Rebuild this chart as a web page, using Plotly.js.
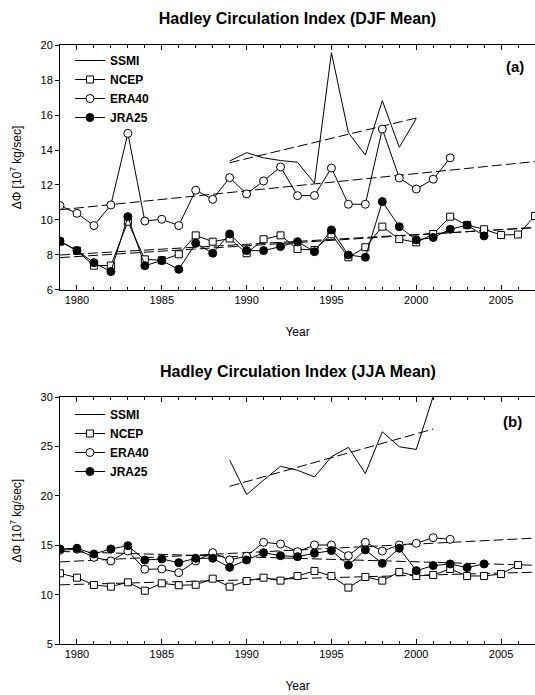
<!DOCTYPE html>
<html><head><meta charset="utf-8">
<script src="https://cdn.plot.ly/plotly-3.0.1.min.js"></script>
<style>html,body{margin:0;padding:0;background:#fff}#chart{width:535px;height:695px}</style>
</head><body><div id="chart"></div>
<script>
// ---- DJF (panel a) ----
const yearsSSMI_DJF = [1989,1990,1991,1992,1993,1994,1995,1996,1997,1998,1999,2000];
const ssmiDJF = [13.37,13.85,13.55,13.4,13.3,12.1,19.56,14.99,13.71,16.82,14.15,15.8];
const yearsNCEP_DJF = [1979,1980,1981,1982,1983,1984,1985,1986,1987,1988,1989,1990,1991,1992,1993,1994,1995,1996,1997,1998,1999,2000,2001,2002,2003,2004,2005,2006,2007];
const ncepDJF = [8.76,8.25,7.39,7.4,9.9,7.75,7.7,8.04,9.12,8.76,8.94,8.1,8.9,9.12,8.34,8.29,9.18,7.87,8.44,9.62,8.91,8.72,9.2,10.19,9.71,9.47,9.14,9.17,10.23];
const yearsERA_DJF = [1979,1980,1981,1982,1983,1984,1985,1986,1987,1988,1989,1990,1991,1992,1993,1994,1995,1996,1997,1998,1999,2000,2001,2002];
const era40DJF = [10.82,10.38,9.68,10.86,14.95,9.94,10.04,9.68,11.7,11.18,12.42,11.49,12.23,13.03,11.39,11.4,12.97,10.9,10.9,15.2,12.4,11.77,12.33,13.55];
const yearsJRA_DJF = [1979,1980,1981,1982,1983,1984,1985,1986,1987,1988,1989,1990,1991,1992,1993,1994,1995,1996,1997,1998,1999,2000,2001,2002,2003,2004];
const jraDJF = [8.8,8.25,7.56,7.05,10.19,7.39,7.68,7.18,8.67,8.1,9.2,8.25,8.25,8.48,8.76,8.19,9.43,8.0,7.87,11.05,9.62,8.86,9.0,9.47,9.71,9.09];

// ---- JJA (panel b) ----
const yearsSSMI_JJA = [1989,1990,1991,1992,1993,1994,1995,1996,1997,1998,1999,2000,2001];
const ssmiJJA = [23.63,20.14,21.6,23.0,22.6,21.93,23.97,24.92,22.27,26.5,24.98,24.71,30.1];
const yearsNCEP_JJA = [1979,1980,1981,1982,1983,1984,1985,1986,1987,1988,1989,1990,1991,1992,1993,1994,1995,1996,1997,1998,1999,2000,2001,2002,2003,2004,2005,2006];
const ncepJJA = [12.16,11.72,10.98,10.81,11.25,10.4,11.15,10.95,11.0,11.62,10.81,11.38,11.72,11.42,11.89,12.4,11.89,10.71,11.79,11.42,12.3,11.89,11.99,12.6,11.89,11.89,12.09,13.0];
const yearsERA_JJA = [1979,1980,1981,1982,1983,1984,1985,1986,1987,1988,1989,1990,1991,1992,1993,1994,1995,1996,1997,1998,1999,2000,2001,2002];
const era40JJA = [14.5,14.6,13.78,13.41,14.42,12.57,12.6,12.23,13.41,14.25,13.51,13.9,15.3,15.13,14.35,15.03,15.03,13.95,15.3,14.42,15.03,15.2,15.77,15.6];
const yearsJRA_JJA = [1979,1980,1981,1982,1983,1984,1985,1986,1987,1988,1989,1990,1991,1992,1993,1994,1995,1996,1997,1998,1999,2000,2001,2002,2003,2004];
const jraJJA = [14.63,14.7,14.12,14.63,14.96,13.51,13.61,13.24,13.68,13.68,12.77,13.51,14.25,13.95,13.85,14.19,14.46,13.0,14.53,13.17,14.7,12.43,12.94,13.11,12.74,13.11];

const seriesNames = ['SSMI','NCEP','ERA40','JRA25'];
const xTickVals = [1980,1985,1990,1995,2000,2005];
const panelTitles = ['Hadley Circulation Index (DJF Mean)','Hadley Circulation Index (JJA Mean)'];
const panelLabels = ['(a)','(b)'];
const yTitle = '\u0394\u03A6 [10<sup>7</sup> kg/sec]';

const XMIN = 1979, XMAX = 2007;

// least-squares trend line through a series
function trend(xs, ys, x0, x1) {
  const n = xs.length;
  let mx = 0, my = 0;
  for (let i = 0; i < n; i++) { mx += xs[i]; my += ys[i]; }
  mx /= n; my /= n;
  let sxy = 0, sxx = 0;
  for (let i = 0; i < n; i++) { sxy += (xs[i]-mx)*(ys[i]-my); sxx += (xs[i]-mx)*(xs[i]-mx); }
  const b = sxy / sxx, a = my - b*mx;
  return {x: [x0, x1], y: [a + b*x0, a + b*x1]};
}

const markerStyles = {
  SSMI: null,
  NCEP: {symbol: 'square', size: 7, color: '#fff', line: {color: '#000', width: 1}},
  ERA40: {symbol: 'circle', size: 8, color: '#fff', line: {color: '#000', width: 1}},
  JRA25: {symbol: 'circle', size: 8, color: '#000', line: {color: '#000', width: 1}}
};

function panel(sets, xa, ya, legendName) {
  const traces = [];
  sets.forEach(([name, xs, ys, fullRange]) => {
    const t = trend(xs, ys, fullRange ? XMIN : xs[0], fullRange ? XMAX : xs[xs.length-1]);
    traces.push({x: t.x, y: t.y, xaxis: xa, yaxis: ya, mode: 'lines', showlegend: false,
      line: {color: '#000', width: 1, dash: '10px,4px'}, hoverinfo: 'skip'});
  });
  sets.forEach(([name, xs, ys]) => {
    const m = markerStyles[name];
    const tr = {x: xs, y: ys, xaxis: xa, yaxis: ya, name: name, legend: legendName,
      mode: m ? 'lines+markers' : 'lines', line: {color: '#000', width: 1}};
    if (m) tr.marker = m;
    traces.push(tr);
  });
  return traces;
}

const data = [].concat(
  panel([['SSMI', yearsSSMI_DJF, ssmiDJF, false], ['NCEP', yearsNCEP_DJF, ncepDJF, true],
         ['ERA40', yearsERA_DJF, era40DJF, true], ['JRA25', yearsJRA_DJF, jraDJF, true]], 'x', 'y', 'legend'),
  panel([['SSMI', yearsSSMI_JJA, ssmiJJA, false], ['NCEP', yearsNCEP_JJA, ncepJJA, true],
         ['ERA40', yearsERA_JJA, era40JJA, true], ['JRA25', yearsJRA_JJA, jraJJA, true]], 'x2', 'y2', 'legend2')
);

const FONT = 'Arial, "Liberation Sans", sans-serif';
function xAxis(anchor) {
  return {anchor: anchor, domain: [0,1], range: [XMIN, XMAX], tickvals: xTickVals,
    ticks: 'inside', ticklen: 5, tickwidth: 1, tickcolor: '#000', mirror: 'ticks',
    showline: true, linecolor: '#000', linewidth: 1, showgrid: false, zeroline: false,
    minor: {tickvals: yearsNCEP_DJF, ticks: 'inside', ticklen: 3, tickcolor: '#000', showgrid: false},
    tickfont: {size: 11}, title: {text: 'Year', font: {size: 12}, standoff: 22}};
}
function yAxis(domain, range, dtick, anchor) {
  return {anchor: anchor, domain: domain, range: range, dtick: dtick, ticks: 'outside', ticklen: 4,
    tickcolor: '#000', showline: true, linecolor: '#000', linewidth: 1, showgrid: false, zeroline: false,
    tickfont: {size: 11}, title: {text: yTitle, font: {size: 12}, standoff: 16}};
}
function yRight(over, range, dtick) {
  return {overlaying: over, side: 'right', anchor: over === 'y' ? 'x' : 'x2', range: range, dtick: dtick,
    ticks: 'inside', ticklen: 4, tickcolor: '#000', showticklabels: false, showline: true,
    linecolor: '#000', showgrid: false, zeroline: false};
}

const layout = {
  width: 535, height: 695,
  margin: {l: 60, r: 0, t: 45, b: 51},
  paper_bgcolor: '#fff', plot_bgcolor: '#fff',
  font: {family: FONT, size: 12, color: '#000'},
  showlegend: true,
  title: {text: '<b>' + panelTitles[0] + '</b>', font: {size: 16}, xref: 'paper', x: 0.5, xanchor: 'center',
    yref: 'container', y: 1 - 18/695, yanchor: 'middle'},
  xaxis: xAxis('y'),
  yaxis: yAxis([0.591, 1], [6, 20], 2, 'x'),
  xaxis2: xAxis('y2'),
  yaxis2: yAxis([0, 0.412], [5, 30], 5, 'x2'),
  yaxis3: yRight('y', [6, 20], 2),
  yaxis4: yRight('y2', [5, 30], 5),
  legend: {x: 0.021, xanchor: 'left', y: (644-46)/599, yanchor: 'top', bgcolor: 'rgba(0,0,0,0)',
    font: {size: 12, weight: 'bold'}, borderwidth: 0, tracegroupgap: 0},
  legend2: {x: 0.021, xanchor: 'left', y: (644-400)/599, yanchor: 'top', bgcolor: 'rgba(0,0,0,0)',
    font: {size: 12, weight: 'bold'}, borderwidth: 0, tracegroupgap: 0},
  annotations: [
    {text: '<b>' + panelTitles[1] + '</b>', xref: 'paper', yref: 'paper', x: 0.5, y: (644-371.7)/599,
      xanchor: 'center', yanchor: 'middle', showarrow: false, font: {size: 16}},
    {text: '<b>' + panelLabels[0] + '</b>', xref: 'paper', yref: 'paper', x: (515-60)/475, y: (644-66.5)/599,
      xanchor: 'center', yanchor: 'middle', showarrow: false, font: {size: 15}},
    {text: '<b>' + panelLabels[1] + '</b>', xref: 'paper', yref: 'paper', x: (512-60)/475, y: (644-422)/599,
      xanchor: 'center', yanchor: 'middle', showarrow: false, font: {size: 15}}
  ]
};

Plotly.newPlot('chart', data, layout, {displayModeBar: false, staticPlot: true});
</script>
</body></html>
